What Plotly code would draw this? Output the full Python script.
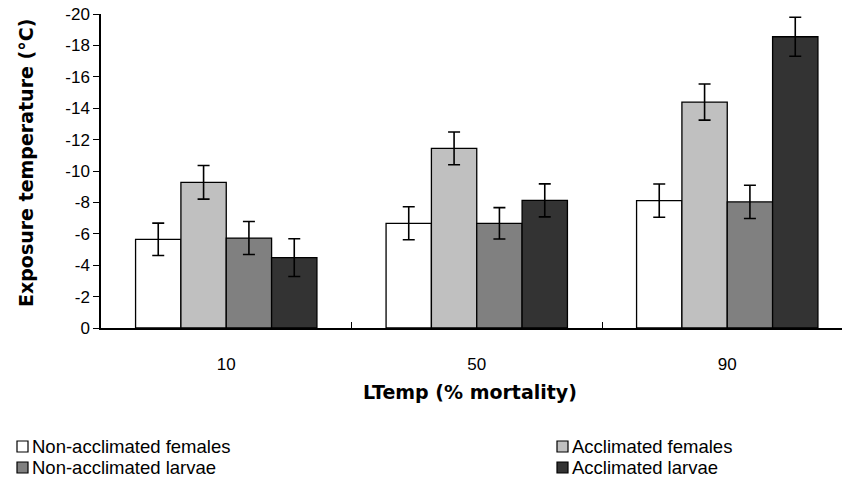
import plotly.graph_objects as go

# LTemp categories (% mortality)
categories = ["10", "50", "90"]

# Exposure temperatures (°C) and their error margins for each group
series_names = [
    "Non-acclimated females",
    "Acclimated females",
    "Non-acclimated larvae",
    "Acclimated larvae",
]
non_accl_females = [-5.65, -6.67, -8.11]
non_accl_females_err = [1.03, 1.05, 1.06]
accl_females = [-9.28, -11.44, -14.39]
accl_females_err = [1.07, 1.04, 1.15]
non_accl_larvae = [-5.73, -6.67, -8.03]
non_accl_larvae_err = [1.05, 1.00, 1.06]
accl_larvae = [-4.48, -8.13, -18.55]
accl_larvae_err = [1.20, 1.05, 1.24]

y_ticks = [0, -2, -4, -6, -8, -10, -12, -14, -16, -18, -20]

series_values = [non_accl_females, accl_females, non_accl_larvae, accl_larvae]
series_errors = [non_accl_females_err, accl_females_err, non_accl_larvae_err, accl_larvae_err]
fills = ["#FFFFFF", "#C0C0C0", "#808080", "#333333"]

W, H = 842, 497
L, R, T, B = 101, 0, 14, 169
plot_w = W - L - R
plot_h = H - T - B


def px_x(x):
    return (x - L) / plot_w


def px_y(y):
    return (H - B - y) / plot_h


fig = go.Figure()
for name, vals, errs, col in zip(series_names, series_values, series_errors, fills):
    fig.add_trace(go.Bar(
        x=categories, y=vals, name=name,
        marker=dict(color=col, line=dict(color="#000000", width=1.3)),
        error_y=dict(type="data", array=errs, visible=True,
                     color="#000000", thickness=1.6, width=6),
        showlegend=False,
    ))

# category band width in pixels sets the visible x range
band = 250.5
x_end = -0.5 + plot_w / band

fig.update_layout(
    width=W, height=H,
    margin=dict(l=L, r=R, t=T, b=B),
    paper_bgcolor="#FFFFFF", plot_bgcolor="#FFFFFF",
    barmode="group", bargap=0.276, bargroupgap=0,
    font=dict(family="Liberation Sans", color="#000000"),
)
fig.update_xaxes(
    type="category", range=[-0.5, x_end],
    showline=True, linecolor="#000000", linewidth=1.5,
    ticks="inside", tickson="boundaries", ticklen=6, tickcolor="#000000", tickwidth=1.3,
    tickfont=dict(family="Liberation Sans", size=17),
    ticklabelstandoff=20,
    showgrid=False, zeroline=False,
)
fig.update_yaxes(
    range=[0, -20], tickvals=y_ticks, ticktext=[str(v) for v in y_ticks],
    showline=True, linecolor="#000000", linewidth=1.5,
    ticks="outside", ticklen=6, tickcolor="#000000", tickwidth=1.3,
    tickfont=dict(family="Liberation Sans", size=17),
    showgrid=False, zeroline=False,
)

annotations = [
    dict(text="<b>LTemp (% mortality)</b>", x=px_x(470), y=px_y(392),
         xref="paper", yref="paper", xanchor="center", yanchor="middle",
         showarrow=False, font=dict(family="DejaVu Sans", size=19)),
    dict(text="<b>Exposure temperature (°C)</b>", x=px_x(26), y=px_y(163),
         xref="paper", yref="paper", xanchor="center", yanchor="middle",
         textangle=-90, showarrow=False, font=dict(family="DejaVu Sans", size=19)),
]

# two-column key below the chart
key_pos = [(17, 446), (557, 446), (17, 467), (557, 467)]
shapes = []
for (kx, ky), name, col in zip(key_pos, series_names, fills):
    shapes.append(dict(type="rect", xref="paper", yref="paper",
                       x0=px_x(kx), x1=px_x(kx + 11), y0=px_y(ky - 5), y1=px_y(ky + 6),
                       fillcolor=col, line=dict(color="#000000", width=1.2)))
    annotations.append(dict(text=name, x=px_x(kx + 13), y=px_y(ky),
                            xref="paper", yref="paper", xanchor="left", yanchor="middle",
                            showarrow=False,
                            font=dict(family="Liberation Sans", size=18.5)))

fig.update_layout(annotations=annotations, shapes=shapes)

fig.write_html("out.html")
